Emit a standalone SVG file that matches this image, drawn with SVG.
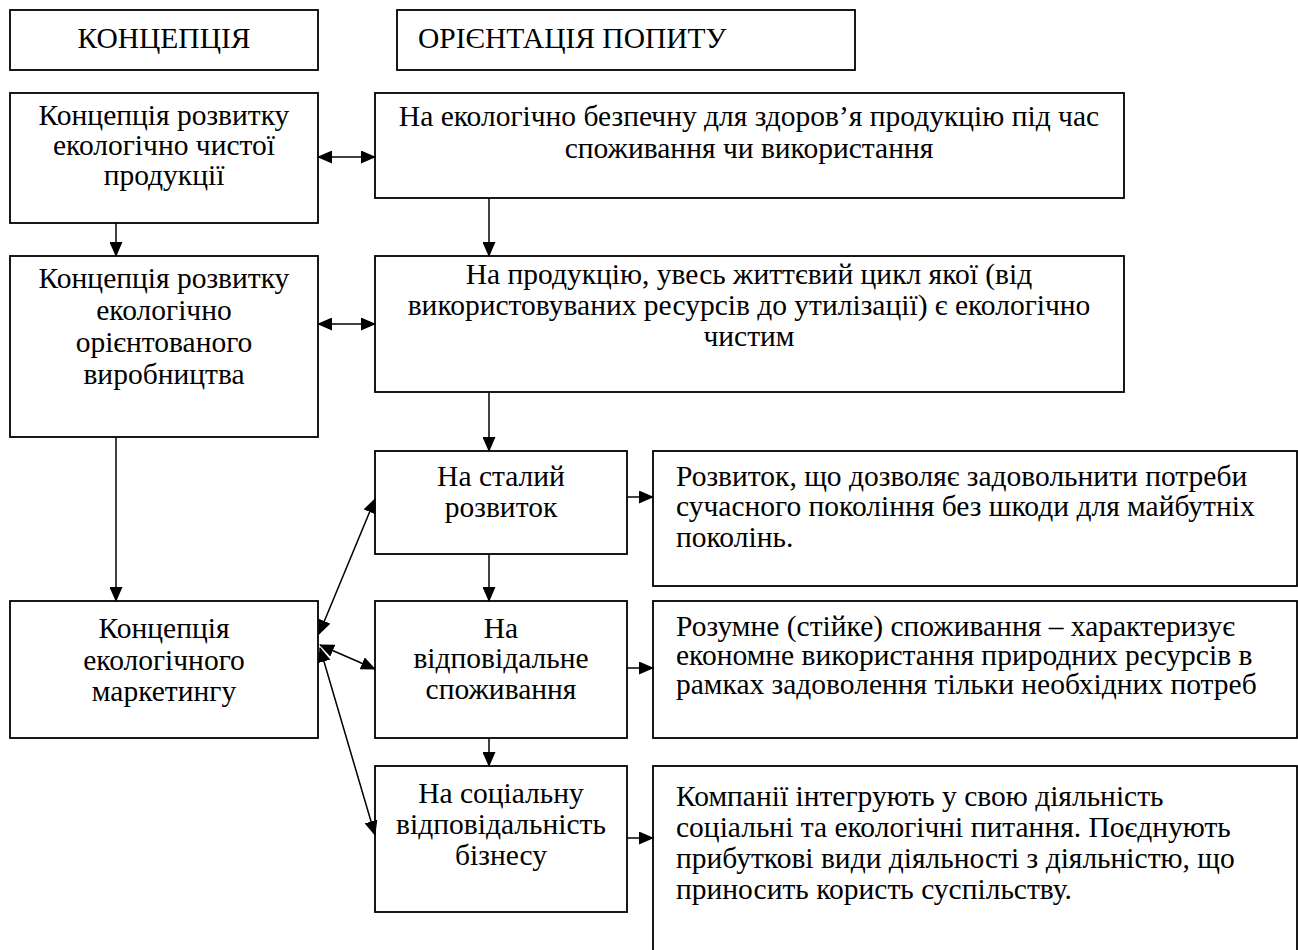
<svg xmlns="http://www.w3.org/2000/svg" width="1298" height="950" viewBox="0 0 1298 950">
<style>
rect.box{fill:#fff;stroke:#000;stroke-width:1.8}
text{font-family:"Liberation Serif","Times New Roman",serif;font-size:29.5px;fill:#000}
text.c{text-anchor:middle}
.conn line{stroke:#000;stroke-width:1.5;fill:none}
</style>
<defs>
<marker id="ah" markerUnits="userSpaceOnUse" markerWidth="15" markerHeight="13" refX="14" refY="6.5" orient="auto-start-reverse" viewBox="0 0 15 13">
<path d="M0,0 L15,6.5 L0,13 z" fill="#000"/>
</marker>
</defs>
<rect x="0" y="0" width="1298" height="950" fill="#fff"/>

<g id="hdr-concept"><rect class="box" x="10" y="10" width="308" height="60"/><text class="c" x="164" y="48">КОНЦЕПЦІЯ</text></g>
<g id="hdr-orient"><rect class="box" x="397" y="10" width="458" height="60"/><text x="418" y="48">ОРІЄНТАЦІЯ ПОПИТУ</text></g>

<g id="n-a"><rect class="box" x="10" y="93" width="308" height="130"/>
<text class="c"><tspan x="164" y="125">Концепція розвитку</tspan><tspan x="164" y="155">екологічно чистої</tspan><tspan x="164" y="185">продукції</tspan></text></g>

<g id="n-b"><rect class="box" x="375" y="93" width="749" height="105"/>
<text class="c"><tspan x="749" y="126">На екологічно безпечну для здоров’я продукцію під час</tspan><tspan x="749" y="158">споживання чи використання</tspan></text></g>

<g id="n-c"><rect class="box" x="10" y="256" width="308" height="181"/>
<text class="c"><tspan x="164" y="288">Концепція розвитку</tspan><tspan x="164" y="320">екологічно</tspan><tspan x="164" y="352">орієнтованого</tspan><tspan x="164" y="384">виробництва</tspan></text></g>

<g id="n-d"><rect class="box" x="375" y="256" width="749" height="136"/>
<text class="c"><tspan x="749" y="284">На продукцію, увесь життєвий цикл якої (від</tspan><tspan x="749" y="315">використовуваних ресурсів до утилізації) є екологічно</tspan><tspan x="749" y="346">чистим</tspan></text></g>

<g id="n-f"><rect class="box" x="375" y="451" width="252" height="103"/>
<text class="c"><tspan x="501" y="486">На сталий</tspan><tspan x="501" y="517">розвиток</tspan></text></g>

<g id="n-g"><rect class="box" x="653" y="451" width="644" height="135"/>
<text><tspan x="676" y="486">Розвиток, що дозволяє задовольнити потреби</tspan><tspan x="676" y="516">сучасного покоління без шкоди для майбутніх</tspan><tspan x="676" y="547">поколінь.</tspan></text></g>

<g id="n-e"><rect class="box" x="10" y="601" width="308" height="137"/>
<text class="c"><tspan x="164" y="638">Концепція</tspan><tspan x="164" y="670">екологічного</tspan><tspan x="164" y="701">маркетингу</tspan></text></g>

<g id="n-h"><rect class="box" x="375" y="601" width="252" height="137"/>
<text class="c"><tspan x="501" y="638">На</tspan><tspan x="501" y="668">відповідальне</tspan><tspan x="501" y="699">споживання</tspan></text></g>

<g id="n-i"><rect class="box" x="653" y="601" width="644" height="137"/>
<text><tspan x="676" y="636">Розумне (стійке) споживання – характеризує</tspan><tspan x="676" y="665">економне використання природних ресурсів в</tspan><tspan x="676" y="694">рамках задоволення тільки необхідних потреб</tspan></text></g>

<g id="n-j"><rect class="box" x="375" y="766" width="252" height="146"/>
<text class="c"><tspan x="501" y="803">На соціальну</tspan><tspan x="501" y="834">відповідальність</tspan><tspan x="501" y="865">бізнесу</tspan></text></g>

<g id="n-k"><rect class="box" x="653" y="766" width="644" height="200"/>
<text><tspan x="676" y="806">Компанії інтегрують у свою діяльність</tspan><tspan x="676" y="837">соціальні та екологічні питання. Поєднують</tspan><tspan x="676" y="868">прибуткові види діяльності з діяльністю, що</tspan><tspan x="676" y="899">приносить користь суспільству.</tspan></text></g>

<g class="conn" id="connectors">
<line x1="318" y1="157" x2="375" y2="157" marker-start="url(#ah)" marker-end="url(#ah)"/>
<line x1="318" y1="324" x2="375" y2="324" marker-start="url(#ah)" marker-end="url(#ah)"/>
<line x1="116" y1="223" x2="116" y2="256" marker-end="url(#ah)"/>
<line x1="489" y1="198" x2="489" y2="256" marker-end="url(#ah)"/>
<line x1="116" y1="437" x2="116" y2="601" marker-end="url(#ah)"/>
<line x1="489" y1="392" x2="489" y2="451" marker-end="url(#ah)"/>
<line x1="489" y1="554" x2="489" y2="601" marker-end="url(#ah)"/>
<line x1="489" y1="738" x2="489" y2="766" marker-end="url(#ah)"/>
<line x1="627" y1="497" x2="653" y2="497" marker-end="url(#ah)"/>
<line x1="627" y1="668" x2="653" y2="668" marker-end="url(#ah)"/>
<line x1="627" y1="838" x2="653" y2="838" marker-end="url(#ah)"/>
<line x1="319" y1="634" x2="375" y2="499" marker-start="url(#ah)" marker-end="url(#ah)"/>
<line x1="320" y1="645" x2="375" y2="669" marker-start="url(#ah)" marker-end="url(#ah)"/>
<line x1="320" y1="648" x2="375" y2="835" marker-start="url(#ah)" marker-end="url(#ah)"/>
</g>
</svg>
